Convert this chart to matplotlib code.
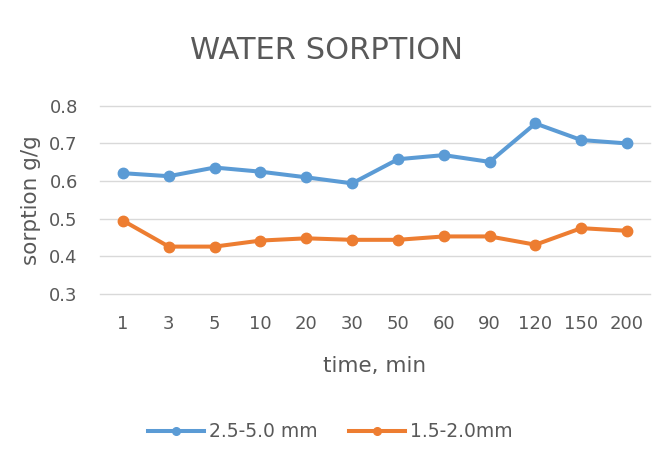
import matplotlib
matplotlib.use("Agg")
import matplotlib.pyplot as plt
from matplotlib.lines import Line2D
import numpy as np

# data
times = ["1", "3", "5", "10", "20", "30", "50", "60", "90", "120", "150", "200"]
coarse = [0.621, 0.613, 0.636, 0.625, 0.610, 0.594, 0.658, 0.669, 0.651, 0.753, 0.709, 0.700]
fine = [0.495, 0.426, 0.426, 0.442, 0.448, 0.444, 0.444, 0.453, 0.453, 0.431, 0.475, 0.468]
labels = ["2.5-5.0 mm", "1.5-2.0mm"]
colors = ["#5B9BD5", "#ED7D31"]
yticks = [0.3, 0.4, 0.5, 0.6, 0.7, 0.8]

plt.rcParams["font.family"] = ["DejaVu Sans"]
text_col = "#595959"

fig = plt.figure(figsize=(6.67, 4.66), dpi=100)
ax = fig.add_axes([0.15, 0.369, 0.8245, 0.404])

x = np.arange(len(times))
for vals, c in zip([coarse, fine], colors):
    ax.plot(x, vals, color=c, lw=2.9, marker="o", ms=7.5, zorder=3)

ax.set_xlim(-0.5, len(times) - 0.5)
ax.set_ylim(0.3, 0.8)
ax.set_yticks(yticks)
ax.set_yticklabels([f"{v:.1f}" for v in yticks])
ax.set_xticks(x)
ax.set_xticklabels(times)
ax.tick_params(length=0, labelsize=13, labelcolor=text_col)
ax.tick_params(axis="x", pad=15)
ax.tick_params(axis="y", pad=16)
ax.grid(axis="y", color="#D9D9D9", lw=1)
for gl in ax.get_ygridlines():
    gl.set_clip_on(False)
ax.set_axisbelow(True)
for s in ax.spines.values():
    s.set_visible(False)

# axis titles and chart title
fig.text(375 / 667, 1 - 366 / 466, "time, min", ha="center", va="center",
         fontsize=15.5, color=text_col)
fig.text(31 / 667, 1 - 200 / 466, "sorption g/g", ha="center", va="center",
         rotation=90, fontsize=15.5, color=text_col)
fig.text(0.4895, 0.8906, "WATER SORPTION", ha="center", va="center",
         fontsize=22, color=text_col)

handles = [Line2D([], [], color=c, lw=2.9, marker="o", ms=5.5) for c in colors]
fig.legend(handles, labels, loc="center", bbox_to_anchor=(0.495, 0.073),
           ncol=2, frameon=False, fontsize=13.5, labelcolor=text_col,
           handlelength=3.0, handletextpad=0.25, columnspacing=1.7)

fig.savefig("out.png", dpi=100)
